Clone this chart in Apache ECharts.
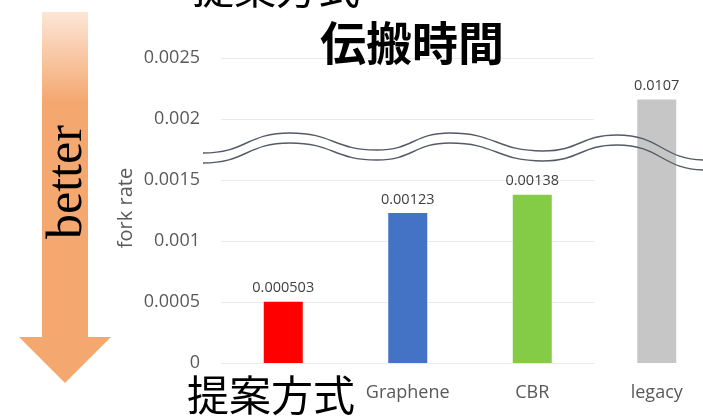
<!DOCTYPE html>
<html>
<head>
<meta charset="utf-8">
<script src="https://cdn.jsdelivr.net/npm/echarts@6/dist/echarts.min.js"></script>
<style>
  html, body { margin: 0; padding: 0; background: #ffffff; }
  #chart { width: 703px; height: 419px; }
</style>
</head>
<body>
<div id="chart"></div>
<script>
// Fork rate per propagation scheme
const categories = ['提案方式', 'Graphene', 'CBR', 'legacy'];
const forkRate = [0.000503, 0.00123, 0.00138, 0.0107];
const barColors = ['#FF0000', '#4472C4', '#84CC45', '#C6C6C6'];
const yTicks = { min: 0, max: 0.0025, interval: 0.0005 };
const yAxisTitle = 'fork rate';
// values above the broken part of the axis are drawn up to this level
const breakCap = 0.00216;

const chart = echarts.init(document.getElementById('chart'), null, { renderer: 'canvas' });

const barData = forkRate.map((v, i) => ({
  value: Math.min(v, breakCap),
  raw: v,
  itemStyle: { color: barColors[i] }
}));

// axis break: two parallel wavy strokes built from bezier segments
const wavePts = [[203, 153], [290, 133], [377, 150], [450, 133], [543, 151], [617, 135], [706, 160]];
function waveSegments(offset) {
  const segs = [];
  for (let i = 1; i < wavePts.length; i++) {
    const [x0, y0] = wavePts[i - 1];
    const [x1, y1] = wavePts[i];
    const dx = (x1 - x0) / 2;
    segs.push({
      type: 'bezierCurve', z: 4, silent: true,
      shape: {
        x1: x0, y1: y0 + offset,
        cpx1: x0 + dx, cpy1: y0 + offset,
        cpx2: x1 - dx, cpy2: y1 + offset,
        x2: x1, y2: y1 + offset
      },
      style: { fill: null, stroke: '#555a66', lineWidth: 1.4 }
    });
  }
  return segs;
}

const option = {
  backgroundColor: '#ffffff',
  animation: false,
  grid: {
    left: 221, top: 58, width: 498, height: 305,
    containLabel: false,
    outerBoundsMode: 'none'
  },
  xAxis: {
    type: 'category',
    data: categories,
    axisLine: { show: false },
    axisTick: { show: false },
    axisLabel: {
      margin: 21,
      fontFamily: 'Open Sans',
      fontSize: 18,
      color: '#595959',
      formatter: (v, i) => (i === 0 ? '' : v)
    }
  },
  yAxis: {
    type: 'value',
    min: yTicks.min,
    max: yTicks.max,
    interval: yTicks.interval,
    axisLine: { show: false },
    axisTick: { show: false },
    axisLabel: {
      margin: 21,
      fontFamily: 'Open Sans',
      fontSize: 18,
      color: '#595959',
      formatter: v => String(+v.toFixed(4))
    },
    splitLine: { lineStyle: { color: '#EBEBEB', width: 1 } }
  },
  series: [{
    type: 'bar',
    data: barData,
    barWidth: 39,
    z: 2,
    label: {
      show: true,
      position: 'top',
      distance: 6,
      fontFamily: 'Open Sans',
      fontSize: 14.5,
      color: '#404040',
      formatter: p => String(p.data.raw)
    }
  }],
  graphic: [
    // plain area on the right side of the plot, no gridlines
    {
      type: 'rect', z: 1, silent: true,
      shape: { x: 594, y: 50, width: 120, height: 320 },
      style: { fill: '#ffffff' }
    },
    // y axis title
    {
      type: 'text', z: 6,
      x: 126, y: 208, rotation: Math.PI / 2,
      style: {
        text: yAxisTitle,
        font: '20px "Open Sans"',
        fill: '#595959',
        textAlign: 'center',
        textVerticalAlign: 'middle'
      }
    },
    // orange "better" arrow
    {
      type: 'polygon', z: 5,
      shape: { points: [[42, 12], [88, 12], [88, 337], [111, 337], [65, 383], [19, 337], [42, 337]] },
      style: {
        fill: {
          type: 'linear', x: 0, y: 0, x2: 0, y2: 1,
          colorStops: [
            { offset: 0, color: '#FCE6D6' },
            { offset: 0.24, color: '#F4A870' },
            { offset: 1, color: '#F4A870' }
          ]
        }
      }
    },
    {
      type: 'text', z: 6,
      x: 68, y: 182, rotation: Math.PI / 2,
      style: {
        text: 'better',
        font: '50px "Liberation Serif"',
        fill: '#000000',
        textAlign: 'center',
        textVerticalAlign: 'middle'
      }
    },
    // headings
    {
      type: 'text', z: 6, x: 412, y: 43,
      style: {
        text: '伝搬時間',
        font: 'bold 46px "Noto Sans CJK JP"',
        fill: '#000000',
        textAlign: 'center',
        textVerticalAlign: 'middle'
      }
    },
    {
      type: 'text', z: 6, x: 276, y: -12,
      style: {
        text: '提案方式',
        font: '42px "Noto Sans CJK JP"',
        fill: '#000000',
        textAlign: 'center',
        textVerticalAlign: 'middle'
      }
    },
    {
      type: 'text', z: 6, x: 271, y: 395,
      style: {
        text: '提案方式',
        font: '42px "Noto Sans CJK JP"',
        fill: '#000000',
        textAlign: 'center',
        textVerticalAlign: 'middle'
      }
    }
  ].concat(waveSegments(0), waveSegments(10))
};

chart.setOption(option);
</script>
</body>
</html>
